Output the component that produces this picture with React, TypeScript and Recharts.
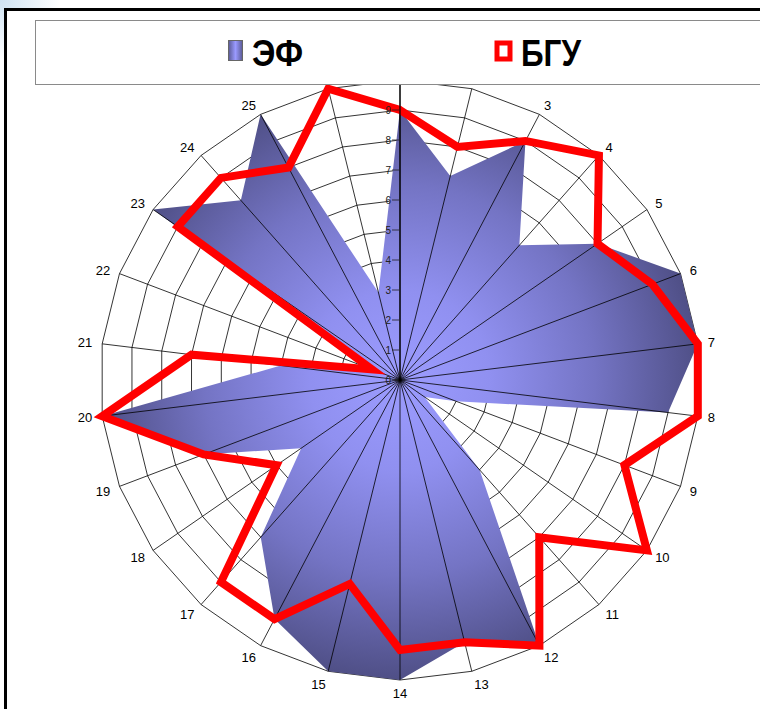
import React from 'react';
import { RadarChart, Radar, PolarGrid, PolarAngleAxis, PolarRadiusAxis } from 'recharts';

const categories = ['1', '2', '3', '4', '5', '6', '7', '8', '9', '10', '11', '12', '13', '14', '15', '16', '17', '18', '19', '20', '21', '22', '23', '24', '25', '26'];
const efValues = [9, 7, 9, 6, 8, 10, 10, 9, 2, 1, 4, 10, 9, 10, 10, 9, 7, 4, 7, 10, 4, 1, 10, 8, 10, 3];
const bguValues = [9, 8, 9, 10, 8, 9, 10, 10, 8, 10, 7, 10, 9, 9, 7, 9, 9, 5, 7, 10, 7, 1, 9, 9, 8, 10];
const radiusTicks = [0, 1, 2, 3, 4, 5, 6, 7, 8, 9, 10];
const seriesNames = ['ЭФ', 'БГУ'];

const data = categories.map((name, i) => ({ name, ef: efValues[i], bgu: bguValues[i] }));

const W = 760;
const H = 709;
const CX = 400;
const CY = 380;
const R = 300;
const FONT = '"Liberation Sans", Arial, sans-serif';

const RadiusTick = (props: any) => {
  const { x, y, payload } = props;
  if (payload.value >= 10) return null;
  return (
    <g>
      <line x1={x - 8} y1={y} x2={x - 1} y2={y} stroke="#222" strokeWidth={0.8} />
      <text x={x - 9} y={y + 3.5} textAnchor="end" fontSize={10} fontFamily={FONT} fill="#222">
        {payload.value}
      </text>
    </g>
  );
};

// bottom category labels sit a little further out than recharts puts them
const AngleTick = (props: any) => {
  const { x, y, textAnchor, payload } = props;
  const t = (y - CY) / R;
  const shift = 3 * Math.max(t, 0);
  return (
    <text x={x} y={y + shift + 4.5} textAnchor={textAnchor} fontSize={13} fontFamily={FONT} fill="#000">
      {payload.value}
    </text>
  );
};

const layer: React.CSSProperties = { position: 'absolute', left: 0, top: 0, width: W, height: H };

export default function App() {
  return (
    <div
      style={{
        position: 'absolute',
        left: 0,
        top: 0,
        width: W,
        height: H,
        overflow: 'hidden',
        background: 'radial-gradient(circle at 0 0, #cfe3f3 0, #ffffff 60px)',
      }}
    >
      <svg width={0} height={0} style={{ position: 'absolute' }}>
        <defs>
          <radialGradient id="efGrad" gradientUnits="userSpaceOnUse" cx={CX} cy={CY} r={R}>
            <stop offset="0" stopColor="#9c9cff" />
            <stop offset="0.3" stopColor="#9090f0" />
            <stop offset="0.65" stopColor="#7474c4" />
            <stop offset="1" stopColor="#4f4f86" />
          </radialGradient>
          <linearGradient id="efKey" x1="0" y1="0" x2="1" y2="0">
            <stop offset="0" stopColor="#5a5a94" />
            <stop offset="0.5" stopColor="#9a9aff" />
            <stop offset="1" stopColor="#5a5a94" />
          </linearGradient>
        </defs>
      </svg>

      {/* frame */}
      <div style={{ position: 'absolute', left: 4, top: 8, width: 900, height: 900, border: '3px solid #000', background: '#fff' }} />

      {/* bottom layer: rings + filled series */}
      <div style={layer}>
        <RadarChart width={W} height={H} data={data} cx={CX} cy={CY} outerRadius={R} margin={{ top: 0, right: 0, bottom: 0, left: 0 }}>
          <PolarGrid gridType="polygon" radialLines={false} stroke="#000" strokeWidth={0.8} />
          <PolarAngleAxis dataKey="name" tick={false} axisLine={false} tickLine={false} />
          <PolarRadiusAxis angle={90} domain={[0, 10]} ticks={radiusTicks as any} tickCount={11} tick={false} axisLine={false} />
          <Radar name={seriesNames[0]} dataKey="ef" fill="url(#efGrad)" fillOpacity={1} stroke="none" isAnimationActive={false} />
        </RadarChart>
      </div>

      {/* top layer: spokes + line series + labels */}
      <div style={layer}>
        <RadarChart width={W} height={H} data={data} cx={CX} cy={CY} outerRadius={R} margin={{ top: 0, right: 0, bottom: 0, left: 0 }}>
          <PolarGrid gridType="polygon" polarRadius={[0]} stroke="#000" strokeWidth={0.8} />
          <Radar name={seriesNames[1]} dataKey="bgu" fill="none" fillOpacity={0} stroke="#ff0000" strokeWidth={8} isAnimationActive={false} />
          <PolarAngleAxis dataKey="name" axisLine={false} tickLine={false} tickSize={10} tick={AngleTick} />
          <PolarRadiusAxis
            angle={90}
            domain={[0, 10]}
            ticks={radiusTicks as any}
            tickCount={11}
            axisLine={{ stroke: '#000', strokeWidth: 1.2 }}
            tickLine={false}
            tick={RadiusTick}
          />
        </RadarChart>
      </div>

      {/* legend */}
      <svg style={layer} width={W} height={H}>
        <rect x={35.5} y={20.5} width={800} height={64} fill="#fff" stroke="#8a8a8a" strokeWidth={1} />
        <rect x={228.5} y={40.5} width={14} height={20} fill="url(#efKey)" stroke="#666" strokeWidth={1} />
        <text x={252} y={66} fontSize={37} fontWeight="bold" fontFamily={FONT} fill="#000" textLength={51} lengthAdjust="spacingAndGlyphs">
          {seriesNames[0]}
        </text>
        <rect x={497} y={43} width={13} height={16} fill="#fff" stroke="#ff0000" strokeWidth={5} />
        <text x={521} y={66} fontSize={37} fontWeight="bold" fontFamily={FONT} fill="#000" textLength={60} lengthAdjust="spacingAndGlyphs">
          {seriesNames[1]}
        </text>
      </svg>
    </div>
  );
}
